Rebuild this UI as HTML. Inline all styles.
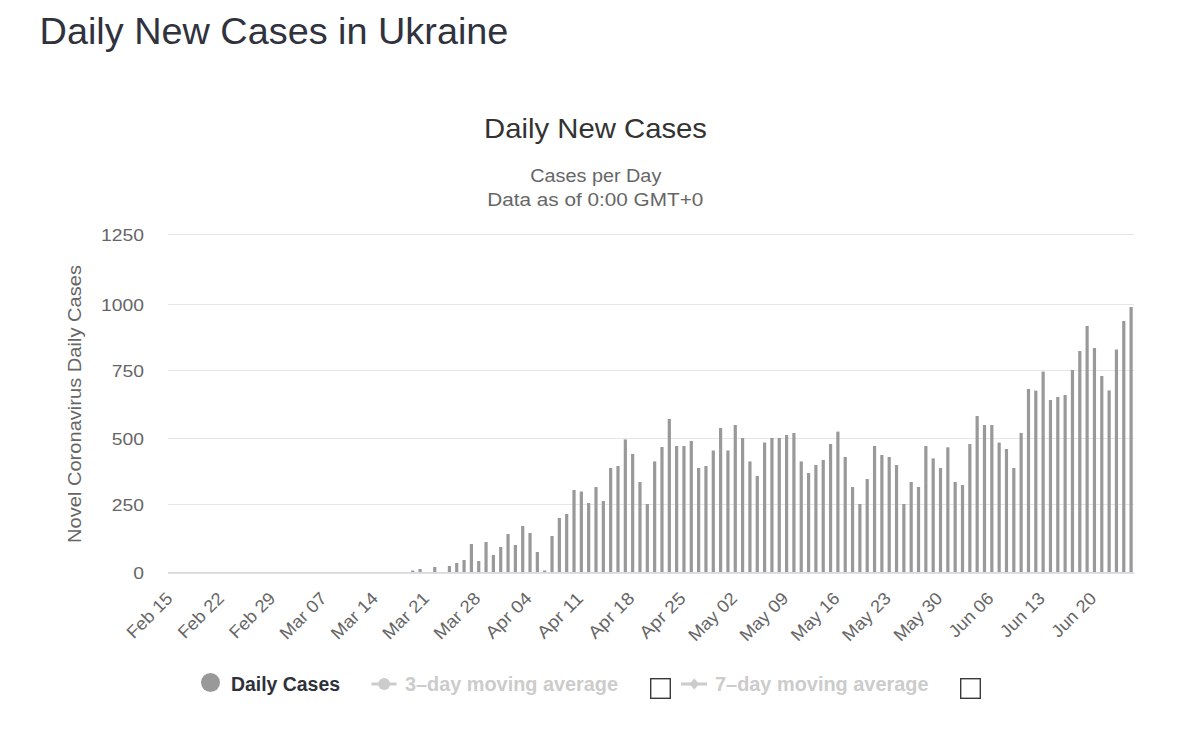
<!DOCTYPE html>
<html><head><meta charset="utf-8"><style>
html,body{margin:0;padding:0;background:#fff;}
body{width:1192px;height:733px;overflow:hidden;position:relative;}
svg{position:absolute;left:0;top:0;}
text{font-family:"Liberation Sans",sans-serif;}
</style></head><body>
<svg width="1192" height="733" viewBox="0 0 1192 733">
<text x="39.60" y="44.00" font-size="37.85" fill="#30323d">Daily New Cases in Ukraine</text>
<text x="484.00" y="137.85" font-size="28" fill="#333333" textLength="223.00" lengthAdjust="spacingAndGlyphs">Daily New Cases</text>
<text x="530.30" y="181.90" font-size="18.9" fill="#666666" textLength="131.00" lengthAdjust="spacingAndGlyphs">Cases per Day</text>
<text x="487.30" y="205.80" font-size="18.9" fill="#666666" textLength="216.00" lengthAdjust="spacingAndGlyphs">Data as of 0:00 GMT+0</text>
<rect x="168" y="234" width="966" height="1" fill="#e6e6e6"/>
<rect x="168" y="304" width="966" height="1" fill="#e6e6e6"/>
<rect x="168" y="370" width="966" height="1" fill="#e6e6e6"/>
<rect x="168" y="438" width="966" height="1" fill="#e6e6e6"/>
<rect x="168" y="504" width="966" height="1" fill="#e6e6e6"/>
<g fill="#666666" font-size="16.8">
<text x="144" y="241.3" text-anchor="end" textLength="43.00" lengthAdjust="spacingAndGlyphs">1250</text>
<text x="144" y="311.3" text-anchor="end" textLength="43.00" lengthAdjust="spacingAndGlyphs">1000</text>
<text x="144" y="377.3" text-anchor="end" textLength="32.25" lengthAdjust="spacingAndGlyphs">750</text>
<text x="144" y="445.3" text-anchor="end" textLength="32.25" lengthAdjust="spacingAndGlyphs">500</text>
<text x="144" y="511.3" text-anchor="end" textLength="32.25" lengthAdjust="spacingAndGlyphs">250</text>
<text x="144" y="579.3" text-anchor="end" textLength="10.75" lengthAdjust="spacingAndGlyphs">0</text>
</g>
<text transform="translate(80.70,543.00) rotate(-90)" font-size="18.7" fill="#666666" textLength="278.00" lengthAdjust="spacingAndGlyphs">Novel Coronavirus Daily Cases</text>
<g fill="#999999">
<rect x="411.15" y="570.5" width="3.2" height="1.5"/>
<rect x="418.48" y="569.0" width="3.2" height="3.0"/>
<rect x="433.14" y="567.0" width="3.2" height="5.0"/>
<rect x="447.80" y="566.0" width="3.2" height="6.0"/>
<rect x="455.13" y="563.0" width="3.2" height="9.0"/>
<rect x="462.46" y="560.0" width="3.2" height="12.0"/>
<rect x="469.79" y="544.0" width="3.2" height="28.0"/>
<rect x="477.12" y="561.0" width="3.2" height="11.0"/>
<rect x="484.45" y="542.0" width="3.2" height="30.0"/>
<rect x="491.78" y="555.0" width="3.2" height="17.0"/>
<rect x="499.11" y="547.0" width="3.2" height="25.0"/>
<rect x="506.44" y="534.0" width="3.2" height="38.0"/>
<rect x="513.77" y="545.0" width="3.2" height="27.0"/>
<rect x="521.10" y="526.0" width="3.2" height="46.0"/>
<rect x="528.43" y="533.0" width="3.2" height="39.0"/>
<rect x="535.76" y="552.0" width="3.2" height="20.0"/>
<rect x="543.09" y="570.5" width="3.2" height="1.5"/>
<rect x="550.42" y="536.0" width="3.2" height="36.0"/>
<rect x="557.75" y="518.0" width="3.2" height="54.0"/>
<rect x="565.08" y="514.0" width="3.2" height="58.0"/>
<rect x="572.41" y="490.0" width="3.2" height="82.0"/>
<rect x="579.75" y="491.5" width="3.2" height="80.5"/>
<rect x="587.07" y="503.0" width="3.2" height="69.0"/>
<rect x="594.40" y="487.0" width="3.2" height="85.0"/>
<rect x="601.74" y="501.0" width="3.2" height="71.0"/>
<rect x="609.06" y="468.0" width="3.2" height="104.0"/>
<rect x="616.39" y="466.0" width="3.2" height="106.0"/>
<rect x="623.73" y="439.4" width="3.2" height="132.6"/>
<rect x="631.05" y="454.0" width="3.2" height="118.0"/>
<rect x="638.38" y="482.0" width="3.2" height="90.0"/>
<rect x="645.72" y="504.0" width="3.2" height="68.0"/>
<rect x="653.04" y="461.4" width="3.2" height="110.6"/>
<rect x="660.37" y="447.0" width="3.2" height="125.0"/>
<rect x="667.71" y="419.0" width="3.2" height="153.0"/>
<rect x="675.03" y="446.0" width="3.2" height="126.0"/>
<rect x="682.36" y="446.0" width="3.2" height="126.0"/>
<rect x="689.70" y="441.0" width="3.2" height="131.0"/>
<rect x="697.02" y="468.0" width="3.2" height="104.0"/>
<rect x="704.35" y="466.0" width="3.2" height="106.0"/>
<rect x="711.69" y="450.5" width="3.2" height="121.5"/>
<rect x="719.01" y="428.0" width="3.2" height="144.0"/>
<rect x="726.34" y="450.5" width="3.2" height="121.5"/>
<rect x="733.68" y="425.0" width="3.2" height="147.0"/>
<rect x="741.00" y="438.0" width="3.2" height="134.0"/>
<rect x="748.33" y="461.4" width="3.2" height="110.6"/>
<rect x="755.67" y="476.0" width="3.2" height="96.0"/>
<rect x="763.00" y="442.5" width="3.2" height="129.5"/>
<rect x="770.32" y="438.0" width="3.2" height="134.0"/>
<rect x="777.65" y="438.0" width="3.2" height="134.0"/>
<rect x="784.99" y="435.0" width="3.2" height="137.0"/>
<rect x="792.31" y="433.0" width="3.2" height="139.0"/>
<rect x="799.64" y="461.4" width="3.2" height="110.6"/>
<rect x="806.98" y="473.0" width="3.2" height="99.0"/>
<rect x="814.30" y="465.0" width="3.2" height="107.0"/>
<rect x="821.63" y="460.0" width="3.2" height="112.0"/>
<rect x="828.97" y="444.0" width="3.2" height="128.0"/>
<rect x="836.29" y="431.6" width="3.2" height="140.4"/>
<rect x="843.62" y="457.0" width="3.2" height="115.0"/>
<rect x="850.96" y="487.0" width="3.2" height="85.0"/>
<rect x="858.28" y="504.0" width="3.2" height="68.0"/>
<rect x="865.61" y="479.0" width="3.2" height="93.0"/>
<rect x="872.95" y="446.0" width="3.2" height="126.0"/>
<rect x="880.27" y="455.0" width="3.2" height="117.0"/>
<rect x="887.60" y="457.0" width="3.2" height="115.0"/>
<rect x="894.94" y="465.0" width="3.2" height="107.0"/>
<rect x="902.26" y="504.0" width="3.2" height="68.0"/>
<rect x="909.59" y="482.0" width="3.2" height="90.0"/>
<rect x="916.93" y="487.0" width="3.2" height="85.0"/>
<rect x="924.25" y="446.0" width="3.2" height="126.0"/>
<rect x="931.58" y="458.4" width="3.2" height="113.6"/>
<rect x="938.92" y="468.0" width="3.2" height="104.0"/>
<rect x="946.25" y="447.3" width="3.2" height="124.7"/>
<rect x="953.57" y="482.0" width="3.2" height="90.0"/>
<rect x="960.91" y="485.0" width="3.2" height="87.0"/>
<rect x="968.24" y="444.0" width="3.2" height="128.0"/>
<rect x="975.56" y="416.0" width="3.2" height="156.0"/>
<rect x="982.89" y="425.0" width="3.2" height="147.0"/>
<rect x="990.23" y="425.0" width="3.2" height="147.0"/>
<rect x="997.55" y="442.6" width="3.2" height="129.4"/>
<rect x="1004.88" y="449.0" width="3.2" height="123.0"/>
<rect x="1012.22" y="468.0" width="3.2" height="104.0"/>
<rect x="1019.54" y="433.0" width="3.2" height="139.0"/>
<rect x="1026.88" y="389.0" width="3.2" height="183.0"/>
<rect x="1034.21" y="390.6" width="3.2" height="181.4"/>
<rect x="1041.54" y="371.6" width="3.2" height="200.4"/>
<rect x="1048.87" y="400.0" width="3.2" height="172.0"/>
<rect x="1056.20" y="397.0" width="3.2" height="175.0"/>
<rect x="1063.53" y="395.0" width="3.2" height="177.0"/>
<rect x="1070.86" y="370.0" width="3.2" height="202.0"/>
<rect x="1078.19" y="351.0" width="3.2" height="221.0"/>
<rect x="1085.52" y="326.0" width="3.2" height="246.0"/>
<rect x="1092.85" y="348.0" width="3.2" height="224.0"/>
<rect x="1100.18" y="376.0" width="3.2" height="196.0"/>
<rect x="1107.51" y="390.4" width="3.2" height="181.6"/>
<rect x="1114.84" y="349.5" width="3.2" height="222.5"/>
<rect x="1122.17" y="321.0" width="3.2" height="251.0"/>
<rect x="1129.50" y="307.0" width="3.2" height="265.0"/>
</g>
<rect x="168" y="572.2" width="966" height="1.4" fill="#cbd0d8"/>
<g fill="#666666" font-size="17.5">
<text transform="translate(173.76,599.5) rotate(-45)" text-anchor="end" textLength="56.7" lengthAdjust="spacingAndGlyphs">Feb 15</text>
<text transform="translate(225.07,599.5) rotate(-45)" text-anchor="end" textLength="56.7" lengthAdjust="spacingAndGlyphs">Feb 22</text>
<text transform="translate(276.38,599.5) rotate(-45)" text-anchor="end" textLength="56.7" lengthAdjust="spacingAndGlyphs">Feb 29</text>
<text transform="translate(327.69,599.5) rotate(-45)" text-anchor="end" textLength="57.9" lengthAdjust="spacingAndGlyphs">Mar 07</text>
<text transform="translate(379.00,599.5) rotate(-45)" text-anchor="end" textLength="57.9" lengthAdjust="spacingAndGlyphs">Mar 14</text>
<text transform="translate(430.31,599.5) rotate(-45)" text-anchor="end" textLength="57.9" lengthAdjust="spacingAndGlyphs">Mar 21</text>
<text transform="translate(481.62,599.5) rotate(-45)" text-anchor="end" textLength="57.9" lengthAdjust="spacingAndGlyphs">Mar 28</text>
<text transform="translate(532.93,599.5) rotate(-45)" text-anchor="end" textLength="57.0" lengthAdjust="spacingAndGlyphs">Apr 04</text>
<text transform="translate(584.25,599.5) rotate(-45)" text-anchor="end" textLength="57.0" lengthAdjust="spacingAndGlyphs">Apr 11</text>
<text transform="translate(635.55,599.5) rotate(-45)" text-anchor="end" textLength="57.0" lengthAdjust="spacingAndGlyphs">Apr 18</text>
<text transform="translate(686.86,599.5) rotate(-45)" text-anchor="end" textLength="57.0" lengthAdjust="spacingAndGlyphs">Apr 25</text>
<text transform="translate(738.18,599.5) rotate(-45)" text-anchor="end" textLength="60.5" lengthAdjust="spacingAndGlyphs">May 02</text>
<text transform="translate(789.49,599.5) rotate(-45)" text-anchor="end" textLength="60.5" lengthAdjust="spacingAndGlyphs">May 09</text>
<text transform="translate(840.79,599.5) rotate(-45)" text-anchor="end" textLength="60.5" lengthAdjust="spacingAndGlyphs">May 16</text>
<text transform="translate(892.10,599.5) rotate(-45)" text-anchor="end" textLength="60.5" lengthAdjust="spacingAndGlyphs">May 23</text>
<text transform="translate(943.42,599.5) rotate(-45)" text-anchor="end" textLength="60.5" lengthAdjust="spacingAndGlyphs">May 30</text>
<text transform="translate(994.73,599.5) rotate(-45)" text-anchor="end" textLength="55.1" lengthAdjust="spacingAndGlyphs">Jun 06</text>
<text transform="translate(1046.04,599.5) rotate(-45)" text-anchor="end" textLength="55.1" lengthAdjust="spacingAndGlyphs">Jun 13</text>
<text transform="translate(1097.35,599.5) rotate(-45)" text-anchor="end" textLength="55.1" lengthAdjust="spacingAndGlyphs">Jun 20</text>
</g>
<circle cx="210.5" cy="682.5" r="9.5" fill="#999999"/>
<text x="231.00" y="690.90" font-size="19.5" fill="#2f313a" font-weight="bold" textLength="109.00" lengthAdjust="spacingAndGlyphs">Daily Cases</text>
<rect x="371.5" y="682.5" width="25" height="3" fill="#cccccc"/>
<circle cx="384.2" cy="684" r="6" fill="#cccccc"/>
<text x="405.00" y="690.90" font-size="19.5" fill="#cccccc" font-weight="bold" textLength="213.00" lengthAdjust="spacingAndGlyphs">3–day moving average</text>
<rect x="650.7" y="678.7" width="19.6" height="19.6" fill="#fff" stroke="#3a3a3a" stroke-width="1.4"/>
<rect x="681" y="682.5" width="26" height="3" fill="#cccccc"/>
<path d="M694.3 678.5 L699.3 684 L694.3 689.5 L689.3 684 Z" fill="#cccccc"/>
<text x="715.00" y="690.90" font-size="19.5" fill="#cccccc" font-weight="bold" textLength="213.50" lengthAdjust="spacingAndGlyphs">7–day moving average</text>
<rect x="960.7" y="678.7" width="19.6" height="19.6" fill="#fff" stroke="#3a3a3a" stroke-width="1.4"/>
</svg>
</body></html>
